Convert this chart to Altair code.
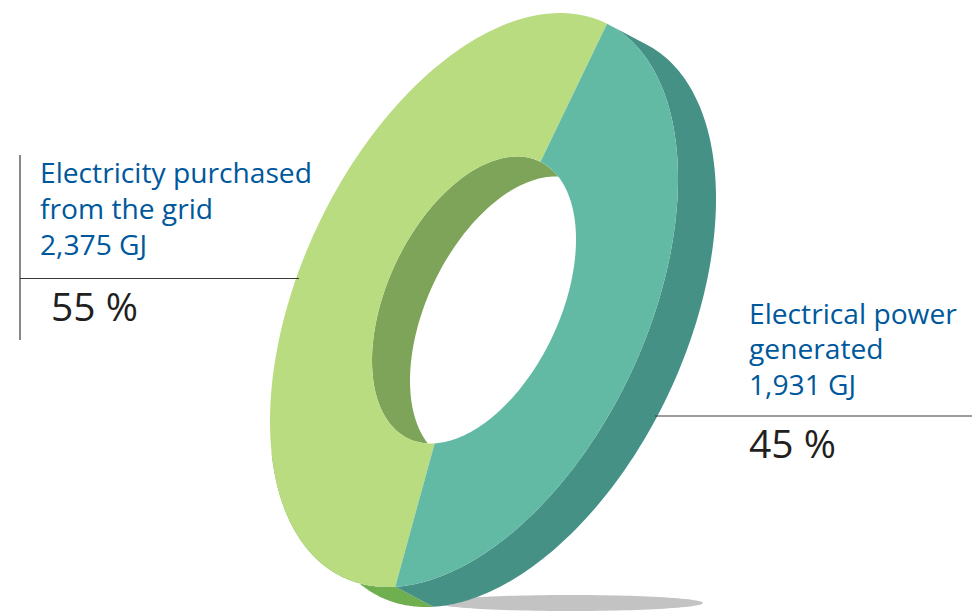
import numpy as np
import altair as alt

# Energy mix shown on the tilted ring
shares = [55, 45]
headings = [["Electricity purchased", "from the grid", "2,375 GJ"],
            ["Electrical power", "generated", "1,931 GJ"]]
percents = ["55 %", "45 %"]

LIME, TEAL = "#B9DC80", "#63BAA4"
LIME_WALL, TEAL_WALL = "#6FAF4F", "#459186"
BORE = "#7EA459"
SHADOW = "#C3C3C3"
BLUE, INK, RULE = "#00589C", "#231F20", "#3A3A3A"
FONT = "Open Sans"

# Projection of the ring: half extents, skew between the axes and extrusion depth
CX, CY, HALF_W, HALF_H, SKEW = 474, 300, 204, 287, 25
HOLE = 0.5
DEPTH = (38, 20)
SEAM_TOP = 49.3
seam_bottom = SEAM_TOP - shares[1] * 3.6


def rim(a, b, scale=1.0, shift=(0, 0), n=160):
    t = np.radians(np.linspace(a, b, n))
    xs = CX + shift[0] + scale * HALF_W * np.cos(t)
    ys = CY + shift[1] - scale * HALF_H * np.sin(t + np.radians(SKEW))
    return [[float(x), float(y)] for x, y in zip(xs, ys)]


def shape(points, color):
    ring = points + [points[0]]
    return {"type": "Feature", "properties": {"color": color},
            "geometry": {"type": "Polygon", "coordinates": [ring]}}


def sweep(a, b):
    return rim(a, b, shift=DEPTH) + rim(b, a)


def blob(x, y, rx, ry, n=120):
    t = np.linspace(0, 2 * np.pi, n, endpoint=False)
    return [[float(x + rx * np.cos(v)), float(y + ry * np.sin(v))] for v in t]


features = [
    shape(blob(570, 603, 133, 8), SHADOW),
    shape(sweep(seam_bottom - 60, seam_bottom), LIME_WALL),
    shape(sweep(seam_bottom, SEAM_TOP), TEAL_WALL),
    shape(rim(0, 360, HOLE), BORE),
    shape(rim(0, 360, HOLE, DEPTH), "#FFFFFF"),
    shape(rim(SEAM_TOP, SEAM_TOP + shares[0] * 3.6)
          + rim(SEAM_TOP + shares[0] * 3.6, SEAM_TOP, HOLE), LIME),
    shape(rim(seam_bottom, SEAM_TOP)
          + rim(SEAM_TOP, seam_bottom, HOLE), TEAL),
]

ring = alt.Chart(alt.Data(values=features)).mark_geoshape(strokeWidth=0).encode(
    fill=alt.Fill("properties.color:N", scale=None)
).project(type="identity", scale=1, translate=[0, 0])

x_page = alt.Scale(domain=[0, 972], nice=False, zero=False)
y_page = alt.Scale(domain=[611, 0], nice=False, zero=False)

leaders = alt.Chart(alt.Data(values=[
    {"x": 20, "x2": 20, "y": 155, "y2": 340},
    {"x": 20, "x2": 299, "y": 278.5, "y2": 278.5},
    {"x": 655, "x2": 972, "y": 416, "y2": 416},
])).mark_rule(color=RULE, strokeWidth=1.2).encode(
    x=alt.X("x:Q", scale=x_page, axis=None), x2="x2:Q",
    y=alt.Y("y:Q", scale=y_page, axis=None), y2="y2:Q",
)

heading_rows = []
for (left, baselines), lines in zip([(40, [183, 219, 255]), (749, [324, 359, 395])], headings):
    for base, line in zip(baselines, lines):
        heading_rows.append({"x": left, "y": base, "t": line})
heading_text = alt.Chart(alt.Data(values=heading_rows)).mark_text(
    align="left", baseline="alphabetic", font=FONT, fontSize=28.2, color=BLUE
).encode(
    x=alt.X("x:Q", scale=x_page, axis=None),
    y=alt.Y("y:Q", scale=y_page, axis=None),
    text="t:N",
)

percent_rows = [{"x": 51, "y": 321, "t": percents[0]}, {"x": 749, "y": 458, "t": percents[1]}]
percent_text = alt.Chart(alt.Data(values=percent_rows)).mark_text(
    align="left", baseline="alphabetic", font=FONT, fontSize=39, color=INK
).encode(
    x=alt.X("x:Q", scale=x_page, axis=None),
    y=alt.Y("y:Q", scale=y_page, axis=None),
    text="t:N",
)

chart = alt.layer(ring, leaders, heading_text, percent_text).properties(
    width=972, height=611, padding=0, autosize=alt.AutoSizeParams(type="none"),
    background="#FFFFFF",
).configure_view(stroke=None)

chart.save("out.html", embed_options={"renderer": "svg", "actions": False})
